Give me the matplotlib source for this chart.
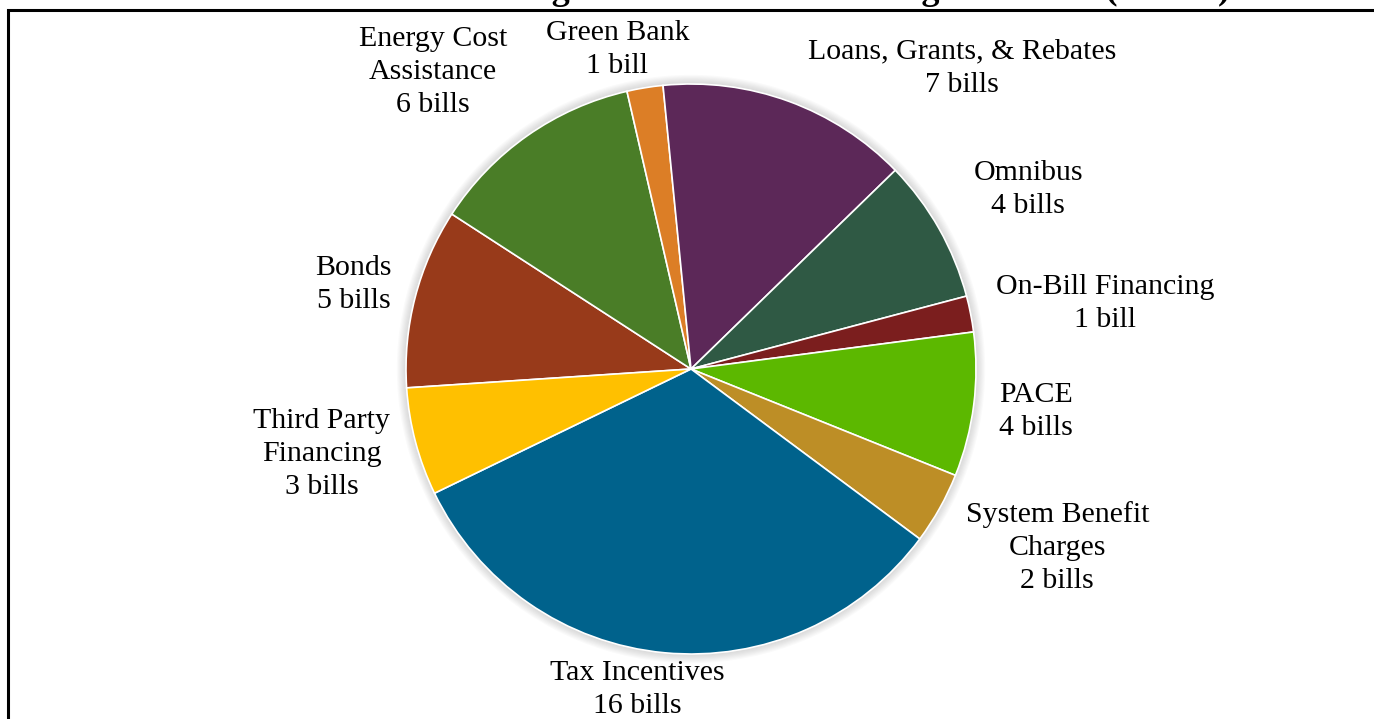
import numpy as np
import matplotlib.pyplot as plt
from matplotlib.patches import Circle, Rectangle

# bills per financing category (alphabetical, drawn clockwise)
categories = ["Bonds", "Energy Cost\nAssistance", "Green Bank", "Loans, Grants, & Rebates",
              "Omnibus", "On-Bill Financing", "PACE", "System Benefit\nCharges",
              "Tax Incentives", "Third Party\nFinancing"]
bills = [5, 6, 1, 7, 4, 1, 4, 2, 16, 3]
colors = ["#983a1a", "#4a7d27", "#dc7e26", "#5c2858", "#2f5944",
          "#7b1e1e", "#5cb800", "#bd8e26", "#00628c", "#ffc000"]

# label centres as (angle in degrees, distance in pie radii)
label_pos = [(166, 1.22), (131, 1.38), (103, 1.15), (48, 1.42), (28, 1.34),
             (9, 1.47), (-7, 1.22), (-26, 1.43), (-99.5, 1.14), (-167, 1.33)]

fig = plt.figure(figsize=(13.74, 7.19), dpi=100)
ax = fig.add_axes([0, 0, 1, 1])
R = 285.0

# soft shadow round the pie
for k in range(8):
    ax.add_patch(Circle((0, 0), 1.0 + 0.004 * (k + 1), color="#808080",
                        alpha=0.04, lw=0, zorder=0))

ax.pie(bills, colors=colors, startangle=-176.2, counterclock=False, radius=1.0,
       wedgeprops=dict(edgecolor="white", linewidth=1.2), frame=True)
ax.set_xlim(-691 / R, (1374 - 691) / R)
ax.set_ylim(-350 / R, 369 / R)
ax.set_aspect("equal")
ax.axis("off")

for name, n, (ang, dist) in zip(categories, bills, label_pos):
    unit = "bill" if n == 1 else "bills"
    a = np.radians(ang)
    ax.text(dist * np.cos(a), dist * np.sin(a), f"{name}\n{n} {unit}",
            ha="center", va="center", fontsize=21.5, family="Liberation Serif",
            linespacing=1.36, color="black")

# frame around the chart area
fig.patches.append(Rectangle((8 / 1374, -0.1), 1.1, (719 - 10) / 719 + 0.1,
                             transform=fig.transFigure, fill=False,
                             edgecolor="black", linewidth=2.2))

fig.text(0.5, 1 + 1 / 719,
         "Number of Bills Addressing Clean Power Financing Measures (N = 49)",
         ha="center", va="baseline", fontsize=26, fontweight="bold",
         family="Liberation Serif")

fig.savefig("out.png", dpi=100)
